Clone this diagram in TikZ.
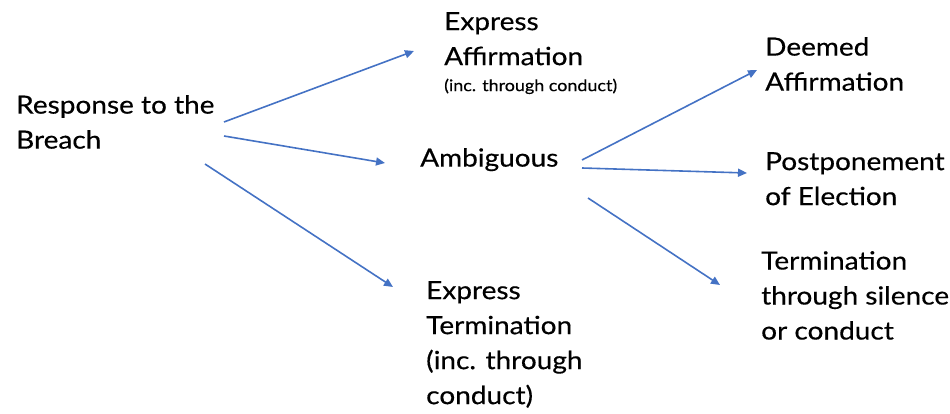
\documentclass[tikz,border=0pt]{standalone}
\usepackage{fontspec}
\setmainfont{Lato}[FakeStretch=1.12, FakeBold=0.4]
\usetikzlibrary{arrows.meta}
\definecolor{arrowBlue}{RGB}{68, 114, 196}

\begin{document}
\begin{tikzpicture}[
    x=1pt, y=-1pt,
    term/.style={anchor=north west, inner sep=0pt, align=left, font=\fontsize{25}{35}\selectfont},
    line/.style={draw=arrowBlue, line width=1.6pt, -{Triangle[length=9pt, width=8pt]}}
]
    \useasboundingbox (0,0) rectangle (950,414);

    % Nos
    \node (resp) [term] at (16,95) {Response to the\\Breach};
    \node (affirm) [term] at (444,12) {Express\\Affirmation\\[-9pt]{\fontsize{16}{18}\selectfont (inc. through conduct)}};
    \node (ambig) [term] at (420,148) {Ambiguous};
    \node (exterm) [term] at (426,281) {Express\\Termination\\(inc. through\\conduct)};
    \node (deemed) [term] at (765,37) {Deemed\\Affirmation};
    \node (postp) [term] at (765,152) {Postponement\\of Election};
    \node (silent) [term] at (761,251) {Termination\\through silence\\or conduct};

    % Conexoes
    \path [line] ([shift={(208,27)}]resp.north west) -- ([shift={(-30,39)}]affirm.north west);
    \path [line] ([shift={(208,41)}]resp.north west) -- ([shift={(-35,15)}]ambig.north west);
    \path [line] ([shift={(189,69)}]resp.north west) -- ([shift={(-33,6)}]exterm.north west);
    \path [line] ([shift={(162,12)}]ambig.north west) -- ([shift={(-8,33)}]deemed.north west);
    \path [line] ([shift={(162,20)}]ambig.north west) -- ([shift={(-18,21)}]postp.north west);
    \path [line] ([shift={(168,50)}]ambig.north west) -- ([shift={(-41,34)}]silent.north west);
\end{tikzpicture}
\end{document}
